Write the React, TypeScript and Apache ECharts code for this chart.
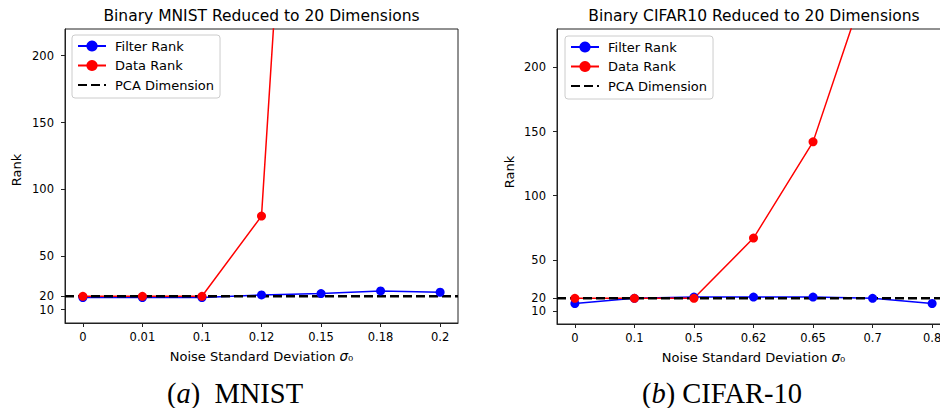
import React, { useEffect, useRef } from 'react';
import * as echarts from 'echarts';

const mnistNoise = ['0', '0.01', '0.1', '0.12', '0.15', '0.18', '0.2'];
const mnistFilterRank = [19, 19, 19, 21, 22, 24, 23];
const mnistDataRank: (number | null)[] = [20, 20, 20, 80, 780, null, null];

const cifarNoise = ['0', '0.1', '0.5', '0.62', '0.65', '0.7', '0.8'];
const cifarFilterRank = [16, 20, 21, 21, 21, 20, 16];
const cifarDataRank: (number | null)[] = [20, 20, 20, 67, 142, 280, null];

const pcaDimension = 20;
const yTickValues = [10, 20, 50, 100, 150, 200];
const mnistYMax = 220;
const cifarYMax = 230;

const FONT = 'DejaVu Sans';
const SERIF = 'Liberation Serif';

const toPoints = (arr: (number | null)[]) =>
  arr.map((v, i) => [i, v]).filter((p) => p[1] !== null);

function buildAxes(gridIndex: number, labels: string[], yMax: number) {
  const n = labels.length;
  const idx = labels.map((_, i) => i);
  const xAxis = {
    type: 'value',
    gridIndex,
    min: -0.3,
    max: n - 1 + 0.3,
    axisLine: { show: true, onZero: false, lineStyle: { color: '#222', width: 1 } },
    axisTick: { show: true, length: 4, customValues: idx, lineStyle: { color: '#222' } },
    axisLabel: {
      customValues: idx,
      formatter: (v: number) => labels[Math.round(v)] ?? '',
      fontSize: 11.5,
      color: '#000',
      fontFamily: FONT,
      margin: 8,
      hideOverlap: false,
    },
    splitLine: { show: false },
    name: 'Noise Standard Deviation {i|σ}₀',
    nameLocation: 'middle',
    nameGap: 26,
    nameTextStyle: {
      fontSize: 13,
      color: '#000',
      fontFamily: FONT,
      rich: { i: { fontStyle: 'italic', fontSize: 13.5, fontFamily: FONT, color: '#000' } },
    },
  };
  const yAxis = {
    type: 'value',
    gridIndex,
    min: 0,
    max: yMax,
    axisLine: { show: true, onZero: false, lineStyle: { color: '#222', width: 1 } },
    axisTick: { show: true, length: 4, customValues: yTickValues, lineStyle: { color: '#222' } },
    axisLabel: {
      customValues: yTickValues,
      fontSize: 11.5,
      color: '#000',
      fontFamily: FONT,
      margin: 11,
    },
    splitLine: { show: false },
  };
  return { xAxis, yAxis };
}

function buildSeries(
  idx: number,
  n: number,
  filter: (number | null)[],
  data: (number | null)[]
) {
  return [
    {
      name: 'Filter Rank',
      type: 'line',
      xAxisIndex: idx,
      yAxisIndex: idx,
      data: toPoints(filter),
      symbol: 'circle',
      symbolSize: 9,
      showSymbol: true,
      color: '#0000ff',
      lineStyle: { color: '#0000ff', width: 1.5 },
      itemStyle: { color: '#0000ff' },
      clip: true,
    },
    {
      name: 'Data Rank',
      type: 'line',
      xAxisIndex: idx,
      yAxisIndex: idx,
      data: toPoints(data),
      symbol: 'circle',
      symbolSize: 9,
      showSymbol: true,
      color: '#ff0000',
      lineStyle: { color: '#ff0000', width: 1.5 },
      itemStyle: { color: '#ff0000' },
      clip: true,
    },
    {
      name: 'PCA Dimension',
      type: 'line',
      xAxisIndex: idx,
      yAxisIndex: idx,
      data: [
        [-0.3, pcaDimension],
        [n - 1 + 0.3, pcaDimension],
      ],
      symbol: 'circle',
      symbolSize: 1,
      showSymbol: false,
      color: '#000',
      lineStyle: { color: '#000', width: 2.5, type: [9, 4] },
      itemStyle: { color: '#000' },
      clip: true,
    },
  ];
}

function legendFor(left: number, top: number) {
  return {
    show: true,
    orient: 'vertical',
    left,
    top,
    data: [
      'Filter Rank',
      'Data Rank',
      {
        name: 'PCA Dimension',
        itemStyle: { color: 'rgba(0,0,0,0)', borderColor: 'rgba(0,0,0,0)', borderWidth: 0 },
      },
    ],
    padding: [3, 6, 5, 5],
    itemGap: 3.5,
    itemWidth: 28,
    itemHeight: 14,
    backgroundColor: 'rgba(255,255,255,0.8)',
    borderColor: '#cccccc',
    borderWidth: 1,
    borderRadius: 3,
    selectedMode: false,
    textStyle: {
      fontSize: 13,
      color: '#000',
      fontFamily: FONT,
      lineHeight: 16,
      padding: [0, 0, 0, 4],
    },
  };
}

export default function App() {
  const ref = useRef<HTMLDivElement>(null);

  useEffect(() => {
    if (!ref.current) return;
    const chart = echarts.init(ref.current, null, { renderer: 'svg' });

    const a = buildAxes(0, mnistNoise, mnistYMax);
    const b = buildAxes(1, cifarNoise, cifarYMax);

    const option = {
      animation: false,
      backgroundColor: '#ffffff',
      grid: [
        { left: 65, top: 29, width: 393, height: 294, show: true, borderColor: '#222', borderWidth: 1, backgroundColor: 'transparent', containLabel: false, outerBoundsMode: 'none' },
        { left: 557, top: 29, width: 393, height: 295, show: true, borderColor: '#222', borderWidth: 1, backgroundColor: 'transparent', containLabel: false, outerBoundsMode: 'none' },
      ],
      xAxis: [a.xAxis, b.xAxis],
      yAxis: [a.yAxis, b.yAxis],
      legend: [legendFor(72, 35), legendFor(565, 36)],
      series: [
        ...buildSeries(0, mnistNoise.length, mnistFilterRank, mnistDataRank),
        ...buildSeries(1, cifarNoise.length, cifarFilterRank, cifarDataRank),
      ],
      graphic: [
        {
          type: 'text',
          x: 261.5,
          y: 16,
          style: { text: 'Binary MNIST Reduced to 20 Dimensions', fontSize: 15.5, fontFamily: FONT, fill: '#000', align: 'center', verticalAlign: 'middle' },
        },
        {
          type: 'text',
          x: 754,
          y: 16,
          style: { text: 'Binary CIFAR10 Reduced to 20 Dimensions', fontSize: 15.5, fontFamily: FONT, fill: '#000', align: 'center', verticalAlign: 'middle' },
        },
        {
          type: 'text',
          x: 16,
          y: 170,
          rotation: Math.PI / 2,
          style: { text: 'Rank', fontSize: 13, fontFamily: FONT, fill: '#000', align: 'center', verticalAlign: 'middle' },
        },
        {
          type: 'text',
          x: 509,
          y: 172,
          rotation: Math.PI / 2,
          style: { text: 'Rank', fontSize: 13, fontFamily: FONT, fill: '#000', align: 'center', verticalAlign: 'middle' },
        },
        {
          type: 'text',
          x: 235,
          y: 393,
          style: {
            text: '({i|a})  MNIST',
            fontSize: 28.5,
            fontFamily: SERIF,
            fill: '#000',
            align: 'center',
            verticalAlign: 'middle',
            rich: { i: { fontStyle: 'italic', fontSize: 28.5, fontFamily: SERIF, fill: '#000' } },
          },
        },
        {
          type: 'text',
          x: 722,
          y: 393,
          style: {
            text: '({i|b}) CIFAR-10',
            fontSize: 28.5,
            fontFamily: SERIF,
            fill: '#000',
            align: 'center',
            verticalAlign: 'middle',
            rich: { i: { fontStyle: 'italic', fontSize: 28.5, fontFamily: SERIF, fill: '#000' } },
          },
        },
      ],
    };

    chart.setOption(option as any);
    return () => chart.dispose();
  }, []);

  return (
    <div
      ref={ref}
      style={{ position: 'absolute', left: 0, top: 0, width: 940, height: 408, background: '#fff' }}
    />
  );
}
